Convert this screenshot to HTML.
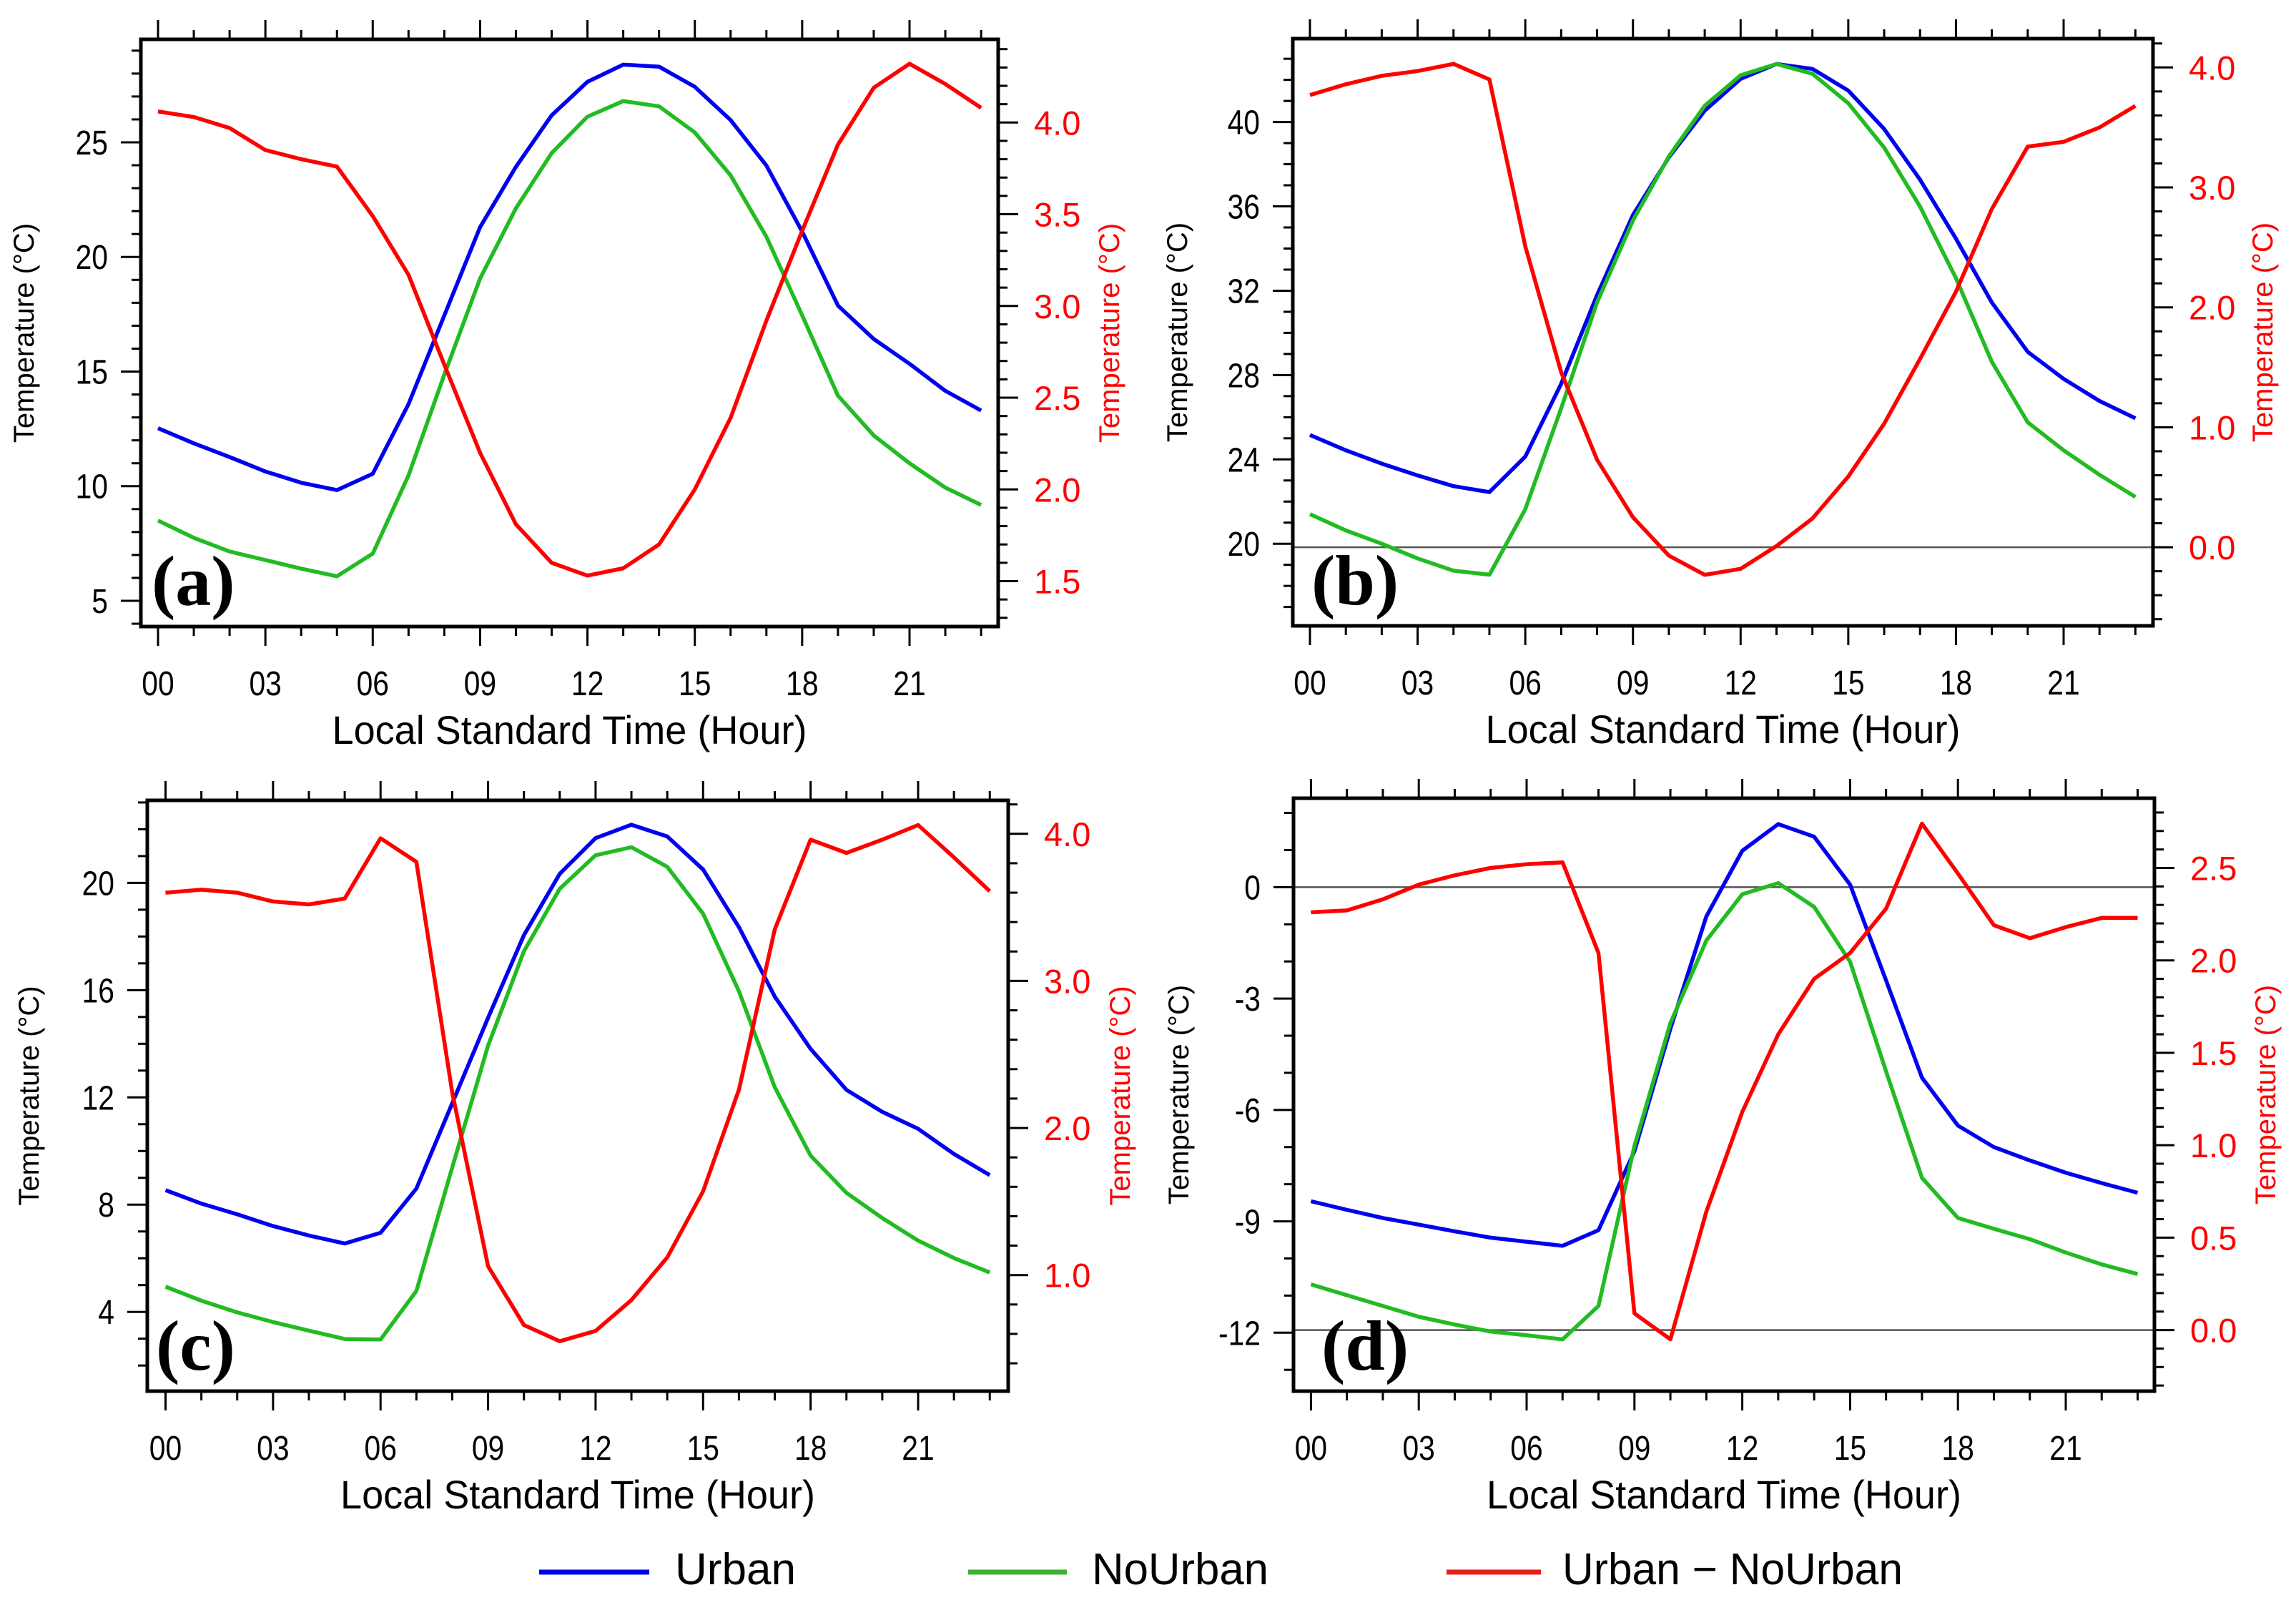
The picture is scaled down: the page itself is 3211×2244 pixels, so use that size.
<!DOCTYPE html>
<html><head><meta charset="utf-8">
<style>
html,body{margin:0;padding:0;background:#fff;}
svg{display:block;}
text{font-family:"Liberation Sans",sans-serif;}
text.plabel{font-family:"Liberation Serif",serif;font-weight:bold;}
</style></head>
<body>
<svg id="fig" xmlns="http://www.w3.org/2000/svg" width="3211" height="2244" viewBox="0 0 3211 2244"></svg>
<script>
const hours=[0,1,2,3,4,5,6,7,8,9,10,11,12,13,14,15,16,17,18,19,20,21,22,23];
const xTickLabels=["00","03","06","09","12","15","18","21"];

const aUrban=[12.53,11.87,11.27,10.64,10.15,9.83,10.54,13.58,17.45,21.3,23.93,26.18,27.64,28.39,28.3,27.42,25.97,23.99,21.1,17.88,16.42,15.34,14.16,13.3];
const aNoUrban=[8.5,7.75,7.15,6.78,6.4,6.07,7.06,10.47,14.87,19.06,22.12,24.53,26.12,26.8,26.57,25.43,23.56,20.88,17.45,13.95,12.21,11.0,9.94,9.18];
const aDiff=[4.06,4.03,3.97,3.85,3.80,3.76,3.49,3.17,2.68,2.2,1.81,1.60,1.53,1.57,1.70,2.0,2.39,2.92,3.41,3.88,4.19,4.32,4.21,4.08];
const aLeftTicks=[25,20,15,10,5];
const aRightTicks=["4.0","3.5","3.0","2.5","2.0","1.5"];

const bUrban=[25.16,24.43,23.8,23.24,22.73,22.45,24.13,27.58,31.79,35.59,38.32,40.54,42.05,42.75,42.52,41.49,39.67,37.27,34.47,31.44,29.1,27.82,26.77,25.95];
const bNoUrban=[21.4,20.63,20.0,19.3,18.72,18.53,21.63,26.42,31.44,35.33,38.37,40.77,42.22,42.75,42.29,40.89,38.79,35.99,32.6,28.63,25.76,24.43,23.27,22.22];
const bDiff=[3.77,3.86,3.93,3.97,4.03,3.90,2.51,1.46,0.73,0.25,-0.07,-0.23,-0.18,0.01,0.24,0.59,1.03,1.57,2.13,2.82,3.34,3.38,3.50,3.68];
const bLeftTicks=[40,36,32,28,24,20];
const bRightTicks=["4.0","3.0","2.0","1.0","0.0"];

const cUrban=[8.54,8.04,7.64,7.2,6.85,6.55,6.95,8.6,11.78,14.97,18.05,20.34,21.67,22.17,21.73,20.5,18.35,15.76,13.81,12.28,11.46,10.83,9.89,9.1];
const cNoUrban=[4.94,4.42,3.98,3.62,3.3,2.99,2.97,4.78,9.39,13.93,17.45,19.78,21.03,21.33,20.6,18.85,15.96,12.38,9.83,8.44,7.5,6.66,6.01,5.47];
const cDiff=[3.6,3.62,3.6,3.54,3.52,3.56,3.97,3.81,2.24,1.06,0.66,0.55,0.62,0.83,1.12,1.57,2.26,3.35,3.96,3.87,3.96,4.06,3.84,3.61];
const cLeftTicks=[20,16,12,8,4];
const cRightTicks=["4.0","3.0","2.0","1.0"];

const dUrban=[-8.46,-8.69,-8.91,-9.09,-9.27,-9.44,-9.55,-9.66,-9.24,-7.11,-3.81,-0.79,0.98,1.70,1.36,0.07,-2.51,-5.13,-6.42,-7.0,-7.36,-7.69,-7.97,-8.23];
const dNoUrban=[-10.7,-10.99,-11.28,-11.57,-11.78,-11.97,-12.07,-12.18,-11.28,-6.97,-3.66,-1.44,-0.19,0.11,-0.53,-2.01,-4.96,-7.83,-8.91,-9.2,-9.48,-9.84,-10.16,-10.42];
const dDiff=[2.26,2.27,2.33,2.41,2.46,2.5,2.52,2.53,2.04,0.09,-0.05,0.64,1.18,1.6,1.9,2.04,2.28,2.74,2.47,2.19,2.12,2.18,2.23,2.23];
const dLeftTicks=[0,-3,-6,-9,-12];
const dRightTicks=["2.5","2.0","1.5","1.0","0.5","0.0"];

const NS="http://www.w3.org/2000/svg";
const svg=document.getElementById('fig');
function mk(tag,attrs,parent){const e=document.createElementNS(NS,tag);for(const k in attrs)e.setAttribute(k,attrs[k]);(parent||svg).appendChild(e);return e;}

const BLUE="#0000f0",GREEN="#22bb22",RED="#ff0000";

const panels=[
 {id:"a",L:197,R:1396,T:55,B:876,x0:221,x21:1272,
  lv1:25,lp1:199,lv2:5,lp2:840,lMinor:1,
  rv1:4.0,rp1:171.3,rv2:1.5,rp2:812.5,rMinor:0.1,
  urban:aUrban,no:aNoUrban,diff:aDiff,lt:aLeftTicks,rt:aRightTicks,zeroL:false,zeroR:false,ylabX:47,ryX:1565,lblX:212},
 {id:"b",L:1808,R:3011,T:54,B:875,x0:1832,x21:2886,
  lv1:40,lp1:170.6,lv2:20,lp2:760.2,lMinor:1,
  rv1:4.0,rp1:94.3,rv2:0.0,rp2:765.1,rMinor:0.2,
  urban:bUrban,no:bNoUrban,diff:bDiff,lt:bLeftTicks,rt:bRightTicks,zeroL:false,zeroR:true,ylabX:1660,ryX:3178,lblX:1834},
 {id:"c",L:206,R:1410,T:1119,B:1945,x0:231.5,x21:1284,
  lv1:20,lp1:1234.4,lv2:4,lp2:1834.2,lMinor:1,
  rv1:4.0,rp1:1165.8,rv2:1.0,rp2:1782.7,rMinor:0.2,
  urban:cUrban,no:cNoUrban,diff:cDiff,lt:cLeftTicks,rt:cRightTicks,zeroL:false,zeroR:false,ylabX:54,ryX:1580,lblX:218},
 {id:"d",L:1809,R:3013,T:1116,B:1945,x0:1833.4,x21:2889,
  lv1:0,lp1:1240.4,lv2:-12,lp2:1863.3,lMinor:1,
  rv1:2.5,rp1:1213.5,rv2:0.0,rp2:1859.6,rMinor:0.1,
  urban:dUrban,no:dNoUrban,diff:dDiff,lt:dLeftTicks,rt:dRightTicks,zeroL:true,zeroR:true,ylabX:1662,ryX:3182,lblX:1848}
];

panels.forEach(p=>{
  const g=mk('g',{});
  
  
  const X=h=>p.x0+h*(p.x21-p.x0)/21;
  const YL=v=>p.lp1+(v-p.lv1)*(p.lp2-p.lp1)/(p.lv2-p.lv1);
  const YR=v=>p.rp1+(v-p.rv1)*(p.rp2-p.rp1)/(p.rv2-p.rv1);
  const invL=y=>p.lv1+(y-p.lp1)*(p.lv2-p.lv1)/(p.lp2-p.lp1);
  const invR=y=>p.rv1+(y-p.rp1)*(p.rv2-p.rv1)/(p.rp2-p.rp1);
  if(p.zeroL){const l=mk('line',{x1:p.L,x2:p.R,y1:YL(0),y2:YL(0),stroke:'#555','stroke-width':2.5},g);
    }
  if(p.zeroR){const l=mk('line',{x1:p.L,x2:p.R,y1:YR(0),y2:YR(0),stroke:'#555','stroke-width':2.5},g);
    }
  hours.forEach(h=>{
    const len=(h%3===0)?27:13;
    mk('line',{x1:X(h),x2:X(h),y1:p.T,y2:p.T-len,stroke:'#000','stroke-width':3},g);
    mk('line',{x1:X(h),x2:X(h),y1:p.B,y2:p.B+len,stroke:'#000','stroke-width':3},g);
  });
  xTickLabels.forEach(s=>{
    const t=mk('text',{x:X(+s),y:p.B+96,'font-size':48,'text-anchor':'middle',fill:'#000',transform:`translate(${X(+s)},0) scale(0.85,1) translate(${-X(+s)},0)`},g);
    t.textContent=s;
    
  });
  const xt=mk('text',{x:(p.L+p.R)/2,y:p.B+164,'font-size':56,'text-anchor':'middle',fill:'#000',textLength:664,lengthAdjust:'spacingAndGlyphs'},g);
  xt.textContent="Local Standard Time (Hour)";
  
  const lTop=invL(p.T),lBot=invL(p.B);
  const lmin=Math.min(lTop,lBot),lmax=Math.max(lTop,lBot);
  for(let v=Math.ceil(lmin/p.lMinor)*p.lMinor;v<=lmax+1e-9;v+=p.lMinor){
    const major=p.lt.some(m=>Math.abs(m-v)<1e-6);
    mk('line',{x1:p.L,x2:p.L-(major?28:13),y1:YL(v),y2:YL(v),stroke:'#000','stroke-width':3},g);
  }
  p.lt.forEach(v=>{
    const t=mk('text',{x:p.L-46,y:YL(v)+17,'font-size':48,'text-anchor':'end',fill:'#000',transform:`translate(${p.L-46},0) scale(0.85,1) translate(${-(p.L-46)},0)`},g);
    t.textContent=String(v);
    
  });
  const rTop=invR(p.T),rBot=invR(p.B);
  const rmin=Math.min(rTop,rBot),rmax=Math.max(rTop,rBot);
  for(let k=Math.ceil(rmin/p.rMinor-1e-6);k*p.rMinor<=rmax+1e-9;k++){
    const v=k*p.rMinor;
    const major=p.rt.some(m=>Math.abs(+m-v)<1e-6);
    mk('line',{x1:p.R,x2:p.R+(major?28:13),y1:YR(v),y2:YR(v),stroke:'#000','stroke-width':3},g);
  }
  p.rt.forEach(s=>{
    const t=mk('text',{x:p.R+50,y:YR(+s)+17,'font-size':47,'text-anchor':'start',fill:RED},g);
    t.textContent=s;
    
  });
  const ym=(p.T+p.B)/2;
  const yl=mk('text',{x:p.ylabX,y:ym,'font-size':40,'text-anchor':'middle',fill:'#000',transform:`rotate(-90 ${p.ylabX} ${ym})`},g);
  yl.textContent="Temperature (°C)";
  
  const yr=mk('text',{x:p.ryX,y:ym,'font-size':40,'text-anchor':'middle',fill:RED,transform:`rotate(-90 ${p.ryX} ${ym})`},g);
  yr.textContent="Temperature (°C)";
  
  const pts=(arr,Y)=>arr.map((v,i)=>X(hours[i]).toFixed(1)+','+Y(v).toFixed(1)).join(' ');
  const s1=mk('polyline',{points:pts(p.urban,YL),fill:'none',stroke:BLUE,'stroke-width':5.5,'stroke-linejoin':'round'},g);
  
  const s2=mk('polyline',{points:pts(p.no,YL),fill:'none',stroke:GREEN,'stroke-width':5.5,'stroke-linejoin':'round'},g);
  
  const s3=mk('polyline',{points:pts(p.diff,YR),fill:'none',stroke:RED,'stroke-width':5.5,'stroke-linejoin':'round'},g);
  
  const fr=mk('rect',{x:p.L,y:p.T,width:p.R-p.L,height:p.B-p.T,fill:'none',stroke:'#000','stroke-width':5},g);
  
  const lb=mk('text',{x:p.lblX,y:p.B-30,'font-size':100,fill:'#000','class':'plabel'},g);
  lb.textContent="("+p.id+")";
  
});

const lg=mk('g',{});


const legendItems=[["Urban",BLUE,754,908,944,169],["NoUrban","#3cb034",1354,1492,1527,247],["Urban \u2212 NoUrban","#e8201c",2023,2155,2185,476]];
legendItems.forEach(it=>{
  const e=mk('g',{},lg);
  
  
  mk('line',{x1:it[2],x2:it[3],y1:2198,y2:2198,stroke:it[1],'stroke-width':7},e);
  const t=mk('text',{x:it[4],y:2215,'font-size':62,fill:'#000',textLength:it[5],lengthAdjust:'spacingAndGlyphs'},e);
  t.textContent=it[0];
});
</script>
</body></html>
